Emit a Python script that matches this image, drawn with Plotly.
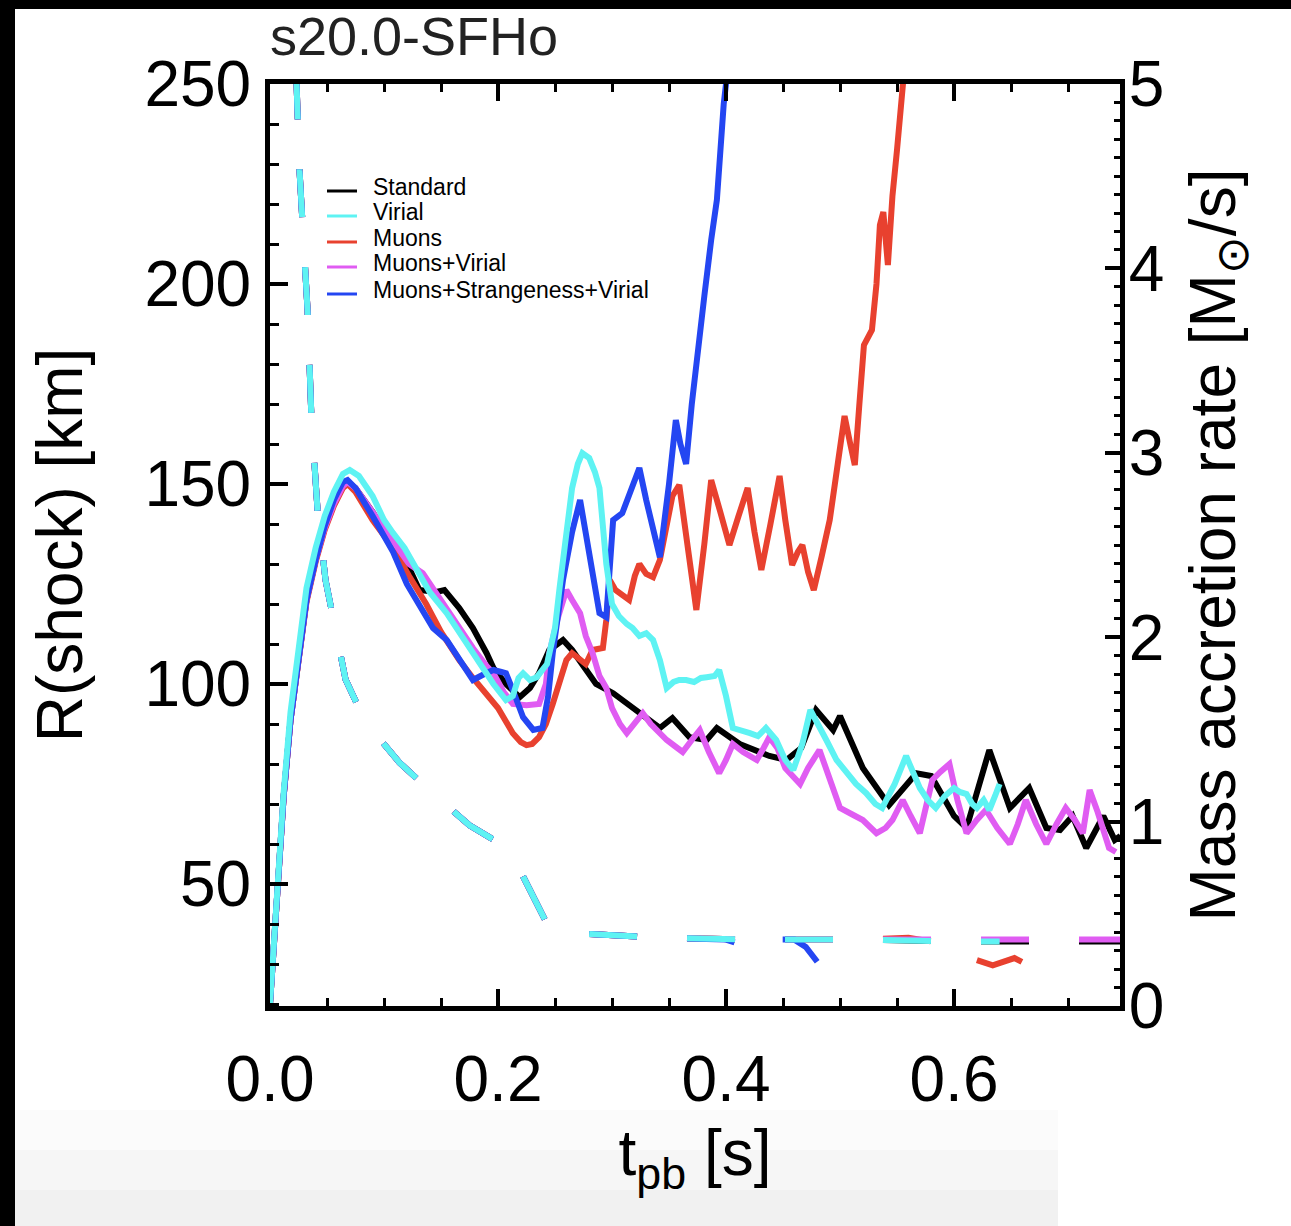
import plotly.graph_objects as go

# ---------------- data ----------------
# Shock radius R(shock) [km] vs post-bounce time t_pb [s]
t_std = [0.0, 0.004, 0.008, 0.012, 0.018, 0.025, 0.032, 0.04, 0.048, 0.056, 0.064, 0.068, 0.075, 0.09, 0.105, 0.122,
         0.131, 0.146, 0.153, 0.166, 0.178, 0.19, 0.196, 0.207, 0.219, 0.228, 0.236, 0.245, 0.257, 0.265, 0.277, 0.286,
         0.301, 0.318, 0.33, 0.342, 0.353, 0.368, 0.383, 0.392, 0.412, 0.438, 0.453, 0.466, 0.479, 0.494, 0.5, 0.52,
         0.543, 0.567, 0.58, 0.6, 0.611, 0.631, 0.649, 0.666, 0.681, 0.693, 0.704, 0.716, 0.731, 0.741, 0.746]
r_std = [20, 38, 55, 72, 91, 107, 121, 131, 139, 145, 149.5, 150.5, 149, 143, 136, 129,
         123.5, 123, 123.5, 119, 114, 107.7, 104, 100, 96.7, 99, 102.7, 108.5, 111, 108.5, 103.5, 100,
         97.7, 94, 91.7, 89, 91.5, 86.7, 86, 89, 85, 82, 81, 84, 93.5, 88.5, 92, 79,
         69.7, 77.7, 77, 67, 64, 83.5, 69, 74, 64, 63.5, 67, 59, 67, 61, 62]

t_vir = [0.0, 0.004, 0.008, 0.012, 0.018, 0.025, 0.032, 0.04, 0.048, 0.056, 0.064, 0.07, 0.078, 0.09, 0.1, 0.108,
         0.118, 0.128, 0.14, 0.155, 0.166, 0.178, 0.188, 0.196, 0.207, 0.213, 0.218, 0.222, 0.228, 0.234, 0.243,
         0.25, 0.254, 0.26, 0.265, 0.27, 0.274, 0.28, 0.285, 0.289, 0.293, 0.295, 0.3, 0.306, 0.313, 0.318, 0.324,
         0.33, 0.336, 0.342, 0.348, 0.354, 0.359, 0.365, 0.372, 0.378, 0.383, 0.39, 0.394, 0.4, 0.406, 0.413,
         0.421, 0.428, 0.435, 0.444, 0.452, 0.459, 0.467, 0.474, 0.481, 0.488, 0.497, 0.506, 0.514, 0.523, 0.531,
         0.537, 0.548, 0.558, 0.564, 0.57, 0.577, 0.584, 0.592, 0.6, 0.605, 0.611, 0.616, 0.62, 0.626, 0.631,
         0.636, 0.64]
r_vir = [20, 38, 56, 73, 93, 110, 124, 134, 142, 148, 152.5, 153.5, 152, 147, 141, 137.7,
         134, 129, 123, 117.7, 113, 107.7, 103.5, 100, 96, 97, 101.5, 102.7, 101, 101.7, 105,
         114, 124, 137, 149, 155, 157.7, 156.5, 153, 149, 138, 130, 120, 117, 115, 114, 112,
         112.7, 111, 106, 99, 100.5, 101, 101, 100.5, 101.5, 101.7, 102, 103.5, 97, 89, 88.5,
         87.7, 87, 89, 86, 81, 78.5, 85, 93.5, 90, 86, 81, 77.7, 75, 72.7, 70,
         69, 75, 82, 78, 74, 71, 69, 72, 74, 73, 72.5, 70, 69, 71, 68.5,
         72, 75]

t_mu = [0.0, 0.004, 0.008, 0.012, 0.018, 0.025, 0.032, 0.04, 0.048, 0.056, 0.064, 0.068, 0.075, 0.09, 0.108, 0.122,
        0.137, 0.15, 0.166, 0.178, 0.19, 0.2, 0.213, 0.22, 0.225, 0.23, 0.236, 0.242, 0.248, 0.255, 0.26, 0.265,
        0.271, 0.277, 0.283, 0.292, 0.295, 0.298, 0.303, 0.307, 0.312, 0.315, 0.32, 0.324, 0.33, 0.336, 0.342,
        0.348, 0.353, 0.359, 0.366, 0.374, 0.381, 0.387, 0.395, 0.403, 0.411, 0.419, 0.425, 0.431, 0.439, 0.447,
        0.452, 0.458, 0.463, 0.467, 0.472, 0.477, 0.484, 0.491, 0.498, 0.504, 0.509, 0.513, 0.517, 0.521, 0.528,
        0.532, 0.535, 0.538, 0.542, 0.546, 0.55, 0.555, 0.56]
r_mu = [20, 38, 55, 72, 91, 107, 120.5, 130.5, 138.5, 144.5, 149, 150, 148, 141, 134, 127,
        120, 113, 106, 101.5, 97.7, 94, 87.7, 85.5, 84.7, 85, 86.7, 90, 95, 101, 106, 107.7,
        106.5, 105, 108.5, 109, 116, 126, 123.5, 122.7, 121.5, 121, 127, 130, 127.5, 126.7, 131,
        140, 147, 149.75, 134, 118.5, 135, 151, 143, 134.75, 142, 149, 138, 128.5, 140, 152,
        141, 129.75, 133, 134.75, 128, 123.5, 132, 141, 155, 167, 160, 154.75, 170, 184.75, 188.5,
        200, 214.75, 218, 204.75, 222, 233.5, 252, 265]

t_muv = [0.0, 0.004, 0.008, 0.012, 0.018, 0.025, 0.032, 0.04, 0.048, 0.056, 0.064, 0.068, 0.075, 0.09, 0.108, 0.122,
         0.134, 0.145, 0.155, 0.166, 0.178, 0.19, 0.196, 0.205, 0.213, 0.225, 0.236, 0.242, 0.245, 0.252, 0.26,
         0.265, 0.272, 0.277, 0.283, 0.289, 0.295, 0.3, 0.307, 0.313, 0.32, 0.327, 0.334, 0.342, 0.348, 0.355,
         0.362, 0.37, 0.377, 0.385, 0.394, 0.4, 0.406, 0.415, 0.427, 0.433, 0.438, 0.445, 0.452, 0.465, 0.472,
         0.482, 0.49, 0.5, 0.51, 0.52, 0.532, 0.54, 0.546, 0.555, 0.562, 0.57, 0.576, 0.581, 0.588, 0.596,
         0.603, 0.611, 0.62, 0.628, 0.638, 0.649, 0.656, 0.663, 0.672, 0.681, 0.69, 0.698, 0.706, 0.713, 0.719,
         0.726, 0.736, 0.742]
r_muv = [20, 38, 55, 72, 91, 107, 121, 131, 139, 145, 149.5, 150.5, 149, 143, 135.5, 130,
         127.7, 123, 119, 114, 109, 104.5, 102.7, 98, 95, 94.7, 95, 100, 107.7, 116, 123.5,
         121, 117.7, 112, 107.7, 102, 99, 94, 90, 87.7, 90, 92.7, 90, 87.7, 86, 84.5,
         83, 86, 88.5, 83, 77.7, 81, 85, 83, 81, 84, 86.7, 84, 79, 75, 79,
         83.5, 77, 69, 67.5, 66, 62.7, 64, 66, 71, 67, 62.7, 70, 76, 78, 80,
         71, 62.7, 66, 68.5, 64, 60, 65, 71, 65, 60, 65, 69, 66, 62.7, 73.5,
         68, 59, 58]

t_msv = [0.0, 0.004, 0.008, 0.012, 0.018, 0.025, 0.032, 0.04, 0.048, 0.056, 0.064, 0.068, 0.075, 0.09, 0.108, 0.12,
         0.131, 0.143, 0.155, 0.166, 0.178, 0.188, 0.196, 0.203, 0.207, 0.213, 0.222, 0.231, 0.239, 0.244, 0.248,
         0.257, 0.265, 0.272, 0.278, 0.283, 0.289, 0.295, 0.298, 0.301, 0.309, 0.316, 0.324, 0.33, 0.336, 0.342,
         0.35, 0.356, 0.36, 0.365, 0.37, 0.376, 0.381, 0.387, 0.392, 0.398, 0.402]
r_msv = [20, 38, 55, 72, 91, 107, 121, 131, 139.5, 146, 150.5, 151, 149, 142, 133, 125,
         120, 114, 111, 106, 101, 102.5, 103.5, 103, 102.7, 98.5, 91.7, 88.5, 89, 97, 107.7,
         126, 138, 146, 136, 126, 117.7, 116.7, 128, 141, 142.7, 148, 154, 146, 138, 131.7,
         150, 166, 160, 155, 170, 186, 197, 211, 221, 245, 255]

# Mass accretion rate [Msun/s] vs t_pb [s] (dashed, right axis)
tm_early = [0.020, 0.0232, 0.0259, 0.0294, 0.0329, 0.0364, 0.0417, 0.0487, 0.0575, 0.0663, 0.0838, 0.1136,
            0.1399, 0.175, 0.210, 0.2276, 0.241, 0.252, 0.289]
m_early = [5.6, 5.0, 4.53, 4.15, 3.78, 3.18, 2.69, 2.31, 2.04, 1.77, 1.54, 1.32,
           1.17, 0.98, 0.85, 0.63, 0.47, 0.40, 0.385]

tm_std = [0.342, 0.43, 0.517, 0.605, 0.693, 0.746]
m_std = [0.37, 0.36, 0.36, 0.35, 0.35, 0.35]
tm_vir = [0.342, 0.43, 0.517, 0.6, 0.64]
m_vir = [0.37, 0.36, 0.36, 0.35, 0.35]
tm_mu = [0.342, 0.43, 0.517, 0.56, 0.58, 0.60, 0.62, 0.634, 0.653, 0.672]
m_mu = [0.37, 0.36, 0.36, 0.37, 0.35, 0.29, 0.25, 0.22, 0.26, 0.20]
tm_muv = [0.342, 0.43, 0.517, 0.605, 0.693, 0.746]
m_muv = [0.37, 0.36, 0.36, 0.36, 0.36, 0.36]
tm_msv = [0.342, 0.40, 0.42, 0.44, 0.46, 0.47, 0.48]
m_msv = [0.37, 0.36, 0.32, 0.36, 0.36, 0.32, 0.24]

names = ["Standard", "Virial", "Muons", "Muons+Virial", "Muons+Strangeness+Virial"]
colors = ["#000000", "#5ef3f3", "#e8412f", "#e05cf2", "#2446f2"]

# ---------------- figure ----------------
W, H = 1291, 1226
L, R, T, B = 270, 171, 84, 220
PW, PH = W - L - R, H - T - B


def pxx(x):
    return (x - L) / PW


def pxy(y):
    return (H - B - y) / PH


FONT = "Liberation Sans, Arial, Helvetica, sans-serif"

series = {
    "Standard": (t_std, r_std, tm_std, m_std),
    "Virial": (t_vir, r_vir, tm_vir, m_vir),
    "Muons": (t_mu, r_mu, tm_mu, m_mu),
    "Muons+Virial": (t_muv, r_muv, tm_muv, m_muv),
    "Muons+Strangeness+Virial": (t_msv, r_msv, tm_msv, m_msv),
}
color_of = dict(zip(names, colors))

fig = go.Figure()
draw_order = ["Standard", "Muons", "Muons+Virial", "Muons+Strangeness+Virial", "Virial"]
for nm in draw_order:
    t, r, tm, m = series[nm]
    fig.add_trace(go.Scatter(x=tm_early + tm, y=m_early + m, mode="lines", yaxis="y2",
                             line=dict(color=color_of[nm], width=6, dash="48px,50px"),
                             showlegend=False, name=nm + " (accretion)"))
for nm in draw_order:
    t, r, tm, m = series[nm]
    fig.add_trace(go.Scatter(x=t, y=r, mode="lines", name=nm,
                             line=dict(color=color_of[nm], width=6), showlegend=False))

shapes = []
annotations = []
# light gray fade at the bottom of the picture
for y0, y1, col in [(1110, 1150, "#fbfbfb"), (1150, 1190, "#f6f6f6"), (1190, H, "#f1f1f1")]:
    shapes.append(dict(type="rect", xref="paper", yref="paper", x0=pxx(15), x1=pxx(1058), y0=pxy(y1), y1=pxy(y0),
                       fillcolor=col, line=dict(width=0), layer="below"))
# manual legend
leg_rows = [191, 216, 242, 267, 294]
for nm, yy in zip(names, leg_rows):
    shapes.append(dict(type="line", xref="paper", yref="paper", x0=pxx(327), x1=pxx(357),
                       y0=pxy(yy), y1=pxy(yy), line=dict(color=color_of[nm], width=3)))
    annotations.append(dict(text=nm, xref="paper", yref="paper", x=pxx(371), y=pxy(yy - 4),
                            xanchor="left", yanchor="middle", showarrow=False,
                            font=dict(family=FONT, size=23, color="black")))
# panel title
annotations.append(dict(text="s20.0-SFHo", xref="paper", yref="paper", x=pxx(268), y=pxy(36),
                        xanchor="left", yanchor="middle", showarrow=False,
                        font=dict(family=FONT, size=54, color="#222222")))
# black frame bands of the picture
shapes.append(dict(type="rect", xref="paper", yref="paper", x0=pxx(0), x1=pxx(W), y0=pxy(9), y1=pxy(0),
                   fillcolor="black", line=dict(width=0), layer="below"))
shapes.append(dict(type="rect", xref="paper", yref="paper", x0=pxx(0), x1=pxx(15), y0=pxy(H), y1=pxy(0),
                   fillcolor="black", line=dict(width=0), layer="below"))

tickfont = dict(family=FONT, size=64, color="black")
fig.update_layout(
    width=W, height=H,
    margin=dict(l=L, r=R, t=T, b=B, autoexpand=False),
    paper_bgcolor="white", plot_bgcolor="white",
    showlegend=False,
    xaxis=dict(range=[0, PW / 1140.0], tickvals=[0.0, 0.2, 0.4, 0.6], ticktext=["0.0", "0.2", "0.4", "0.6"],
               ticks="inside", ticklen=17, tickwidth=4, tickcolor="black",
               minor=dict(dtick=0.05, tick0=0, ticks="inside", ticklen=8, tickwidth=3, tickcolor="black"),
               showline=True, linewidth=5, linecolor="black", mirror="ticks",
               showgrid=False, zeroline=False, tickfont=tickfont, ticklabelstandoff=13,
               title=dict(text="t<sub>pb</sub> [s]", font=dict(family=FONT, size=64, color="black"), standoff=18)),
    yaxis=dict(range=[19.5, 250], tickvals=[50, 100, 150, 200, 250],
               ticks="inside", ticklen=18, tickwidth=4, tickcolor="black",
               minor=dict(dtick=10, tick0=0, ticks="inside", ticklen=9, tickwidth=3, tickcolor="black"),
               showline=True, linewidth=5, linecolor="black", mirror=False,
               showgrid=False, zeroline=False, tickfont=tickfont, ticklabelstandoff=1,
               title=dict(text="R(shock) [km]", font=dict(family=FONT, size=64, color="black"), standoff=43)),
    yaxis2=dict(range=[0, 5], overlaying="y", side="right", tickvals=[0, 1, 2, 3, 4, 5],
                ticks="inside", ticklen=15, tickwidth=4, tickcolor="black",
                minor=dict(dtick=0.1, tick0=0, ticks="inside", ticklen=6, tickwidth=3, tickcolor="black"),
                showline=True, linewidth=5, linecolor="black",
                showgrid=False, zeroline=False, tickfont=tickfont, ticklabelstandoff=-9,
                title=dict(text="Mass accretion rate [M<sub>⊙</sub>/s]",
                           font=dict(family=FONT, size=64, color="black"), standoff=28)),
    shapes=shapes,
    annotations=annotations,
)

fig.write_html("out.html")
